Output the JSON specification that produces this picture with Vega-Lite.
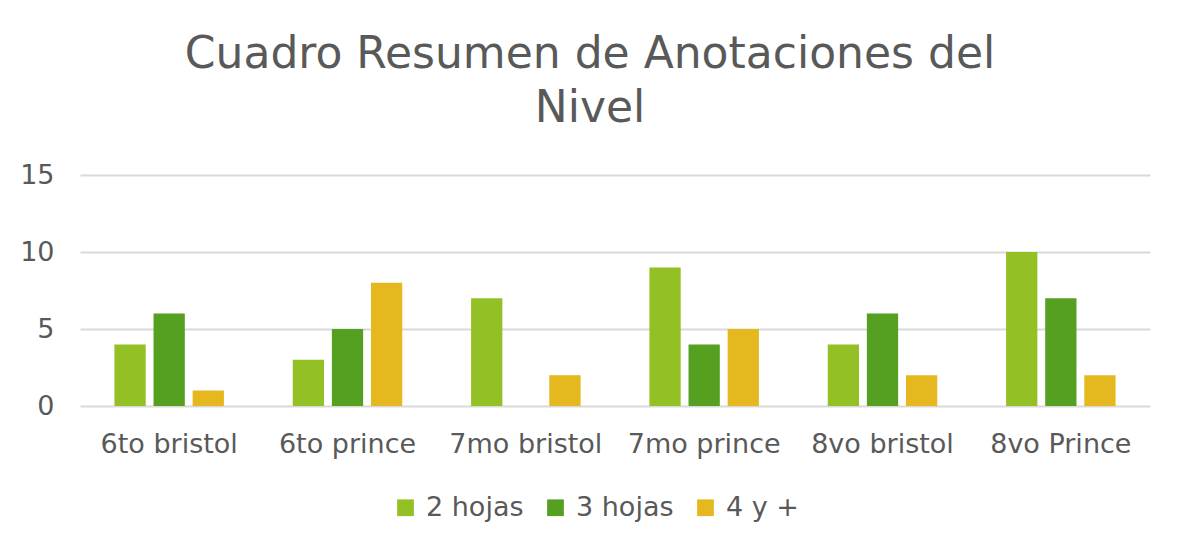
{
  "$schema": "https://vega.github.io/schema/vega-lite/v6.json",
  "autosize": {"type": "none"},
  "width": 1070,
  "height": 231,
  "padding": {"left": 80, "top": 175, "right": 28, "bottom": 144},
  "background": "white",
  "title": {
    "text": ["Cuadro Resumen de Anotaciones del", "Nivel"],
    "fontSize": 44,
    "font": "DejaVu Sans",
    "fontWeight": "normal",
    "color": "#595959",
    "anchor": "middle",
    "dx": -25,
    "offset": 30,
    "lineHeight": 54
  },
  "data": {
    "values": [
      {"grupo": "6to bristol", "serie": "2 hojas", "valor": 4},
      {"grupo": "6to bristol", "serie": "3 hojas", "valor": 6},
      {"grupo": "6to bristol", "serie": "4 y +", "valor": 1},
      {"grupo": "6to prince", "serie": "2 hojas", "valor": 3},
      {"grupo": "6to prince", "serie": "3 hojas", "valor": 5},
      {"grupo": "6to prince", "serie": "4 y +", "valor": 8},
      {"grupo": "7mo bristol", "serie": "2 hojas", "valor": 7},
      {"grupo": "7mo bristol", "serie": "3 hojas", "valor": 0},
      {"grupo": "7mo bristol", "serie": "4 y +", "valor": 2},
      {"grupo": "7mo prince", "serie": "2 hojas", "valor": 9},
      {"grupo": "7mo prince", "serie": "3 hojas", "valor": 4},
      {"grupo": "7mo prince", "serie": "4 y +", "valor": 5},
      {"grupo": "8vo bristol", "serie": "2 hojas", "valor": 4},
      {"grupo": "8vo bristol", "serie": "3 hojas", "valor": 6},
      {"grupo": "8vo bristol", "serie": "4 y +", "valor": 2},
      {"grupo": "8vo Prince", "serie": "2 hojas", "valor": 10},
      {"grupo": "8vo Prince", "serie": "3 hojas", "valor": 7},
      {"grupo": "8vo Prince", "serie": "4 y +", "valor": 2}
    ]
  },
  "mark": {"type": "bar"},
  "encoding": {
    "x": {
      "field": "grupo",
      "type": "nominal",
      "sort": null,
      "scale": {"paddingInner": 0, "paddingOuter": 0},
      "axis": {
        "title": null,
        "labelAngle": 0,
        "labelFontSize": 27,
        "labelFont": "DejaVu Sans",
        "labelColor": "#595959",
        "labelPadding": 25,
        "domain": false,
        "ticks": false,
        "grid": false
      }
    },
    "xOffset": {
      "field": "serie",
      "type": "nominal",
      "scale": {"paddingInner": 0.2, "paddingOuter": 0.88}
    },
    "y": {
      "field": "valor",
      "type": "quantitative",
      "scale": {"domain": [0, 15]},
      "axis": {
        "title": null,
        "values": [0, 5, 10, 15],
        "labelFontSize": 27,
        "labelFont": "DejaVu Sans",
        "labelColor": "#595959",
        "labelPadding": 26,
        "domain": false,
        "ticks": false,
        "gridColor": "#D9D9D9",
        "gridWidth": 2
      }
    },
    "color": {
      "field": "serie",
      "type": "nominal",
      "scale": {
        "domain": ["2 hojas", "3 hojas", "4 y +"],
        "range": ["#92C025", "#55A021", "#E6B820"]
      },
      "legend": {
        "title": null,
        "orient": "none",
        "direction": "horizontal",
        "legendX": 312,
        "legendY": 319,
        "symbolType": "square",
        "symbolSize": 280,
        "symbolStrokeWidth": 0,
        "labelFontSize": 27,
        "labelFont": "DejaVu Sans",
        "labelColor": "#595959",
        "columnPadding": 18,
        "labelOffset": 7
      }
    }
  },
  "config": {"view": {"stroke": null}}
}
